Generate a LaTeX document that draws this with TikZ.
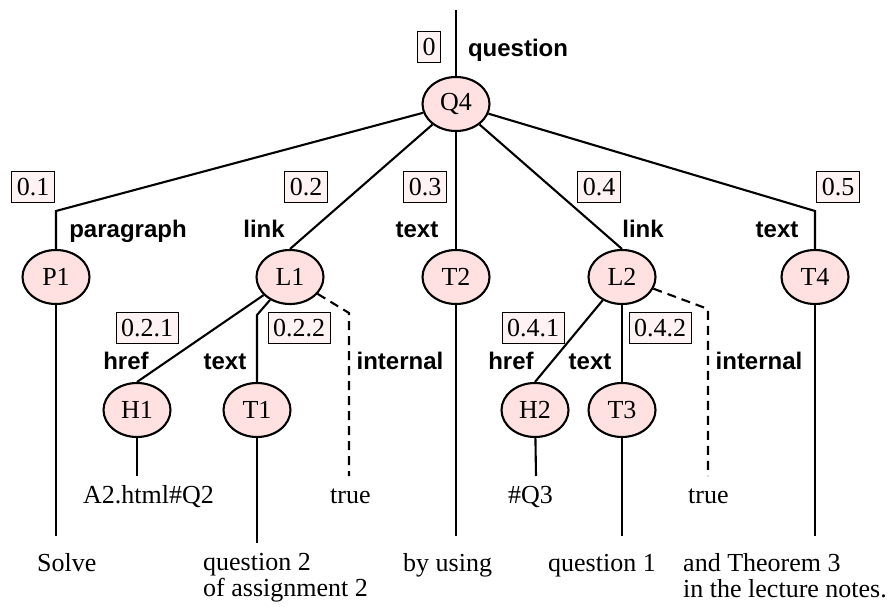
\documentclass[tikz,border=0pt]{standalone}
\usepackage{fontspec}
\setmainfont{Liberation Serif}
\setsansfont{Liberation Sans}
\usetikzlibrary{shapes.geometric}
\definecolor{nodefill}{RGB}{255,225,225}
\definecolor{boxfill}{RGB}{255,242,242}
\begin{document}
\begin{tikzpicture}[x=1pt,y=-1pt,
  font=\fontsize{26}{26}\selectfont,
  tnode/.style={ellipse, draw, line width=2.1pt, fill=nodefill, minimum width=67pt, minimum height=54pt, inner sep=0pt},
  numbox/.style={draw, line width=1pt, fill=boxfill, inner xsep=5pt, inner ysep=7pt, text height=17.5pt, text depth=0pt},
  elabel/.style={font=\sffamily\bfseries\fontsize{24}{24}\selectfont, anchor=base, inner sep=0pt},
  leaf/.style={anchor=base west, inner sep=0pt, align=left},
  edge/.style={line width=2.1pt},
  dedge/.style={line width=2.1pt, dash pattern=on 9pt off 6pt}]
\useasboundingbox (0,0) rectangle (892,607);

% tree nodes
\node[tnode] (Q4) at (456,104) {Q4};
\node[tnode] (P1) at (56,277) {P1};
\node[tnode] (L1) at (290,277) {L1};
\node[tnode] (T2) at (456,277) {T2};
\node[tnode] (L2) at (622,277) {L2};
\node[tnode] (T4) at (815,277) {T4};
\node[tnode] (H1) at (137,410) {H1};
\node[tnode] (T1) at (257,410) {T1};
\node[tnode] (H2) at (535,410) {H2};
\node[tnode] (T3) at (622,410) {T3};

% helper coordinates
\coordinate (top) at (456,10);
\coordinate (bP1) at (56,211);
\coordinate (bT4) at (815,211);
\coordinate (bT1) at (257,315);
\coordinate (dL1) at (349,313);
\coordinate (dL1e) at (349,476);
\coordinate (dL2) at (708,309);
\coordinate (dL2e) at (708,476);
\coordinate (eP1) at (56,536);
\coordinate (eT1) at (257,543);
\coordinate (eT2) at (456,536);
\coordinate (eT3) at (622,536);
\coordinate (eT4) at (815,536);
\coordinate (eH1) at (137,476);
\coordinate (eH2) at (536,476);

% connectors
\draw[edge] (top) -- (Q4.north);
\draw[edge] (P1.north) -- (bP1) -- (Q4);
\draw[edge] (L1.north) -- (Q4);
\draw[edge] (Q4) -- (T2);
\draw[edge] (L2.north) -- (Q4);
\draw[edge] (T4.north) -- (bT4) -- (Q4);
\draw[edge] (H1.north) -- (L1);
\draw[edge] (T1.north) -- (bT1) -- (L1);
\draw[dedge] (L1) -- (dL1) -- (dL1e);
\draw[edge] (H2.north) -- (L2);
\draw[edge] (L2) -- (T3);
\draw[dedge] (L2) -- (dL2) -- (dL2e);
\draw[edge] (P1) -- (eP1);
\draw[edge] (T1) -- (eT1);
\draw[edge] (T2) -- (eT2);
\draw[edge] (T3) -- (eT3);
\draw[edge] (T4) -- (eT4);
\draw[edge] (H1) -- (eH1);
\draw[edge] (H2) -- (eH2);

% number boxes
\node[numbox] (b0) at (429,47) {0};
\node[numbox] (b01) at (33,187) {0.1};
\node[numbox] (b02) at (306,187) {0.2};
\node[numbox] (b03) at (425,187) {0.3};
\node[numbox] (b04) at (599,187) {0.4};
\node[numbox] (b05) at (838,187) {0.5};
\node[numbox] (b021) at (147,328) {0.2.1};
\node[numbox] (b022) at (299,328) {0.2.2};
\node[numbox] (b041) at (533,328) {0.4.1};
\node[numbox] (b042) at (660,328) {0.4.2};

% edge labels
\node[elabel] (lq) at (518,57) {question};
\node[elabel] (lpar) at (128,237) {paragraph};
\node[elabel] (llink1) at (264,237) {link};
\node[elabel] (ltext2) at (417,237) {text};
\node[elabel] (llink2) at (643,237) {link};
\node[elabel] (ltext4) at (777,237) {text};
\node[elabel] (lhref1) at (126,369) {href};
\node[elabel] (ltext1) at (225,369) {text};
\node[elabel] (lint1) at (400,369) {internal};
\node[elabel] (lhref2) at (511,369) {href};
\node[elabel] (ltext3) at (590,369) {text};
\node[elabel] (lint2) at (759,369) {internal};

% leaf texts
\node[leaf] (sA) at (83,503) {A2.html\#Q2};
\node[leaf] (sTr1) at (330,503) {true};
\node[leaf] (sQ3) at (508,503) {\#Q3};
\node[leaf] (sTr2) at (688,503) {true};
\node[leaf] (s1) at (37,571) {Solve};
\node[leaf] (s2) at (203,596) {question 2\\of assignment 2};
\node[leaf] (s3) at (403,571) {by using};
\node[leaf] (s4) at (548,571) {question 1};
\node[leaf] (s5) at (683,597) {and Theorem 3\\in the lecture notes.};
\end{tikzpicture}
\end{document}
